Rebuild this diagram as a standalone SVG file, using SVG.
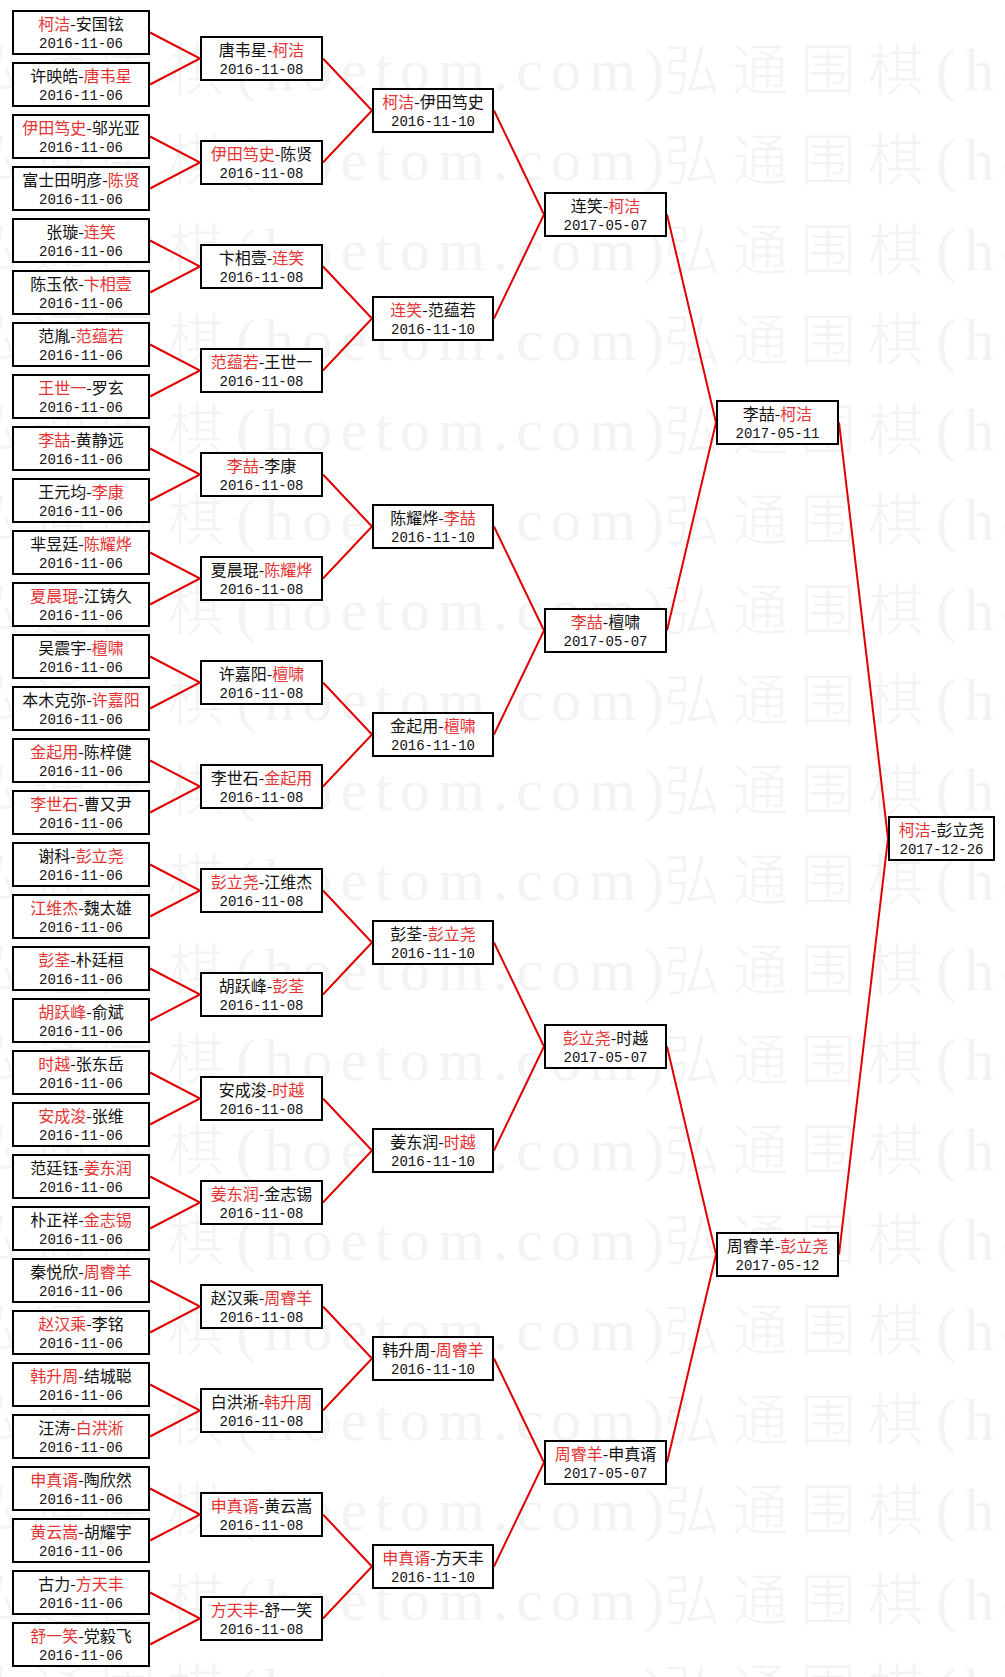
<svg xmlns="http://www.w3.org/2000/svg" xmlns:xlink="http://www.w3.org/1999/xlink" width="1005" height="1677" viewBox="0 0 1005 1677">
<style>
.bg{fill:#ffffff}
.wmc{font-family:"Noto Sans CJK SC",sans-serif;font-size:56px;font-weight:300;letter-spacing:12px;fill:#f3f3f3}
.wml{font-family:"Liberation Serif",serif;font-size:60px;fill:#f3f3f3}
.box{fill:#ffffff;stroke:#000000;stroke-width:2}
.n{font-family:"Noto Sans CJK SC",sans-serif;font-size:16px;fill:#111111;text-anchor:middle}
.d{font-family:"Liberation Mono",monospace;font-size:14px;fill:#111111;text-anchor:middle}
.w{fill:#e53333}
.c path{fill:none;stroke:#e00000;stroke-width:2}
</style>
<defs>
<g id="wmrow">
<text class="wmc" x="-36" y="0">弘通围棋</text>
<text class="wml" x="236" y="0" textLength="428" lengthAdjust="spacing">(hoetom.com)</text>
<text class="wmc" x="664" y="0">弘通围棋</text>
<text class="wml" x="936" y="0" textLength="428" lengthAdjust="spacing">(hoetom.com)</text>
</g>
</defs>
<rect class="bg" x="0" y="0" width="1005" height="1677"/>
<g id="watermark">
<use xlink:href="#wmrow" y="90"/><use xlink:href="#wmrow" y="180"/><use xlink:href="#wmrow" y="270"/><use xlink:href="#wmrow" y="360"/><use xlink:href="#wmrow" y="450"/><use xlink:href="#wmrow" y="540"/><use xlink:href="#wmrow" y="630"/><use xlink:href="#wmrow" y="720"/><use xlink:href="#wmrow" y="810"/><use xlink:href="#wmrow" y="900"/><use xlink:href="#wmrow" y="990"/><use xlink:href="#wmrow" y="1080"/><use xlink:href="#wmrow" y="1170"/><use xlink:href="#wmrow" y="1260"/><use xlink:href="#wmrow" y="1350"/><use xlink:href="#wmrow" y="1440"/><use xlink:href="#wmrow" y="1530"/><use xlink:href="#wmrow" y="1620"/><use xlink:href="#wmrow" y="1710"/>
</g>
<g id="connectors" class="c">
<path d="M150 32.5L200 58.5L150 84.5"/>
<path d="M150 136.5L200 162.5L150 188.5"/>
<path d="M150 240.5L200 266.5L150 292.5"/>
<path d="M150 344.5L200 370.5L150 396.5"/>
<path d="M150 448.5L200 474.5L150 500.5"/>
<path d="M150 552.5L200 578.5L150 604.5"/>
<path d="M150 656.5L200 682.5L150 708.5"/>
<path d="M150 760.5L200 786.5L150 812.5"/>
<path d="M150 864.5L200 890.5L150 916.5"/>
<path d="M150 968.5L200 994.5L150 1020.5"/>
<path d="M150 1072.5L200 1098.5L150 1124.5"/>
<path d="M150 1176.5L200 1202.5L150 1228.5"/>
<path d="M150 1280.5L200 1306.5L150 1332.5"/>
<path d="M150 1384.5L200 1410.5L150 1436.5"/>
<path d="M150 1488.5L200 1514.5L150 1540.5"/>
<path d="M150 1592.5L200 1618.5L150 1644.5"/>
<path d="M323 58.5L372 110.5L323 162.5"/>
<path d="M323 266.5L372 318.5L323 370.5"/>
<path d="M323 474.5L372 526.5L323 578.5"/>
<path d="M323 682.5L372 734.5L323 786.5"/>
<path d="M323 890.5L372 942.5L323 994.5"/>
<path d="M323 1098.5L372 1150.5L323 1202.5"/>
<path d="M323 1306.5L372 1358.5L323 1410.5"/>
<path d="M323 1514.5L372 1566.5L323 1618.5"/>
<path d="M494 110.5L544 214.5L494 318.5"/>
<path d="M494 526.5L544 630.5L494 734.5"/>
<path d="M494 942.5L544 1046.5L494 1150.5"/>
<path d="M494 1358.5L544 1462.5L494 1566.5"/>
<path d="M667 214.5L716 422.5L667 630.5"/>
<path d="M667 1046.5L716 1254.5L667 1462.5"/>
<path d="M839 422.5L888 838.5L839 1254.5"/>
</g>
<g id="round1">
<g id="r1-01"><rect class="box" x="13" y="11" width="136" height="43"/><text class="n" x="81" y="30"><tspan class="w">柯洁</tspan>-安国铉</text><text class="d" x="81" y="48">2016-11-06</text></g>
<g id="r1-02"><rect class="box" x="13" y="63" width="136" height="43"/><text class="n" x="81" y="82">许映皓-<tspan class="w">唐韦星</tspan></text><text class="d" x="81" y="100">2016-11-06</text></g>
<g id="r1-03"><rect class="box" x="13" y="115" width="136" height="43"/><text class="n" x="81" y="134"><tspan class="w">伊田笃史</tspan>-邬光亚</text><text class="d" x="81" y="152">2016-11-06</text></g>
<g id="r1-04"><rect class="box" x="13" y="167" width="136" height="43"/><text class="n" x="81" y="186">富士田明彦-<tspan class="w">陈贤</tspan></text><text class="d" x="81" y="204">2016-11-06</text></g>
<g id="r1-05"><rect class="box" x="13" y="219" width="136" height="43"/><text class="n" x="81" y="238">张璇-<tspan class="w">连笑</tspan></text><text class="d" x="81" y="256">2016-11-06</text></g>
<g id="r1-06"><rect class="box" x="13" y="271" width="136" height="43"/><text class="n" x="81" y="290">陈玉依-<tspan class="w">卞相壹</tspan></text><text class="d" x="81" y="308">2016-11-06</text></g>
<g id="r1-07"><rect class="box" x="13" y="323" width="136" height="43"/><text class="n" x="81" y="342">范胤-<tspan class="w">范蕴若</tspan></text><text class="d" x="81" y="360">2016-11-06</text></g>
<g id="r1-08"><rect class="box" x="13" y="375" width="136" height="43"/><text class="n" x="81" y="394"><tspan class="w">王世一</tspan>-罗玄</text><text class="d" x="81" y="412">2016-11-06</text></g>
<g id="r1-09"><rect class="box" x="13" y="427" width="136" height="43"/><text class="n" x="81" y="446"><tspan class="w">李喆</tspan>-黄静远</text><text class="d" x="81" y="464">2016-11-06</text></g>
<g id="r1-10"><rect class="box" x="13" y="479" width="136" height="43"/><text class="n" x="81" y="498">王元均-<tspan class="w">李康</tspan></text><text class="d" x="81" y="516">2016-11-06</text></g>
<g id="r1-11"><rect class="box" x="13" y="531" width="136" height="43"/><text class="n" x="81" y="550">芈昱廷-<tspan class="w">陈耀烨</tspan></text><text class="d" x="81" y="568">2016-11-06</text></g>
<g id="r1-12"><rect class="box" x="13" y="583" width="136" height="43"/><text class="n" x="81" y="602"><tspan class="w">夏晨琨</tspan>-江铸久</text><text class="d" x="81" y="620">2016-11-06</text></g>
<g id="r1-13"><rect class="box" x="13" y="635" width="136" height="43"/><text class="n" x="81" y="654">吴震宇-<tspan class="w">檀啸</tspan></text><text class="d" x="81" y="672">2016-11-06</text></g>
<g id="r1-14"><rect class="box" x="13" y="687" width="136" height="43"/><text class="n" x="81" y="706">本木克弥-<tspan class="w">许嘉阳</tspan></text><text class="d" x="81" y="724">2016-11-06</text></g>
<g id="r1-15"><rect class="box" x="13" y="739" width="136" height="43"/><text class="n" x="81" y="758"><tspan class="w">金起用</tspan>-陈梓健</text><text class="d" x="81" y="776">2016-11-06</text></g>
<g id="r1-16"><rect class="box" x="13" y="791" width="136" height="43"/><text class="n" x="81" y="810"><tspan class="w">李世石</tspan>-曹又尹</text><text class="d" x="81" y="828">2016-11-06</text></g>
<g id="r1-17"><rect class="box" x="13" y="843" width="136" height="43"/><text class="n" x="81" y="862">谢科-<tspan class="w">彭立尧</tspan></text><text class="d" x="81" y="880">2016-11-06</text></g>
<g id="r1-18"><rect class="box" x="13" y="895" width="136" height="43"/><text class="n" x="81" y="914"><tspan class="w">江维杰</tspan>-魏太雄</text><text class="d" x="81" y="932">2016-11-06</text></g>
<g id="r1-19"><rect class="box" x="13" y="947" width="136" height="43"/><text class="n" x="81" y="966"><tspan class="w">彭荃</tspan>-朴廷桓</text><text class="d" x="81" y="984">2016-11-06</text></g>
<g id="r1-20"><rect class="box" x="13" y="999" width="136" height="43"/><text class="n" x="81" y="1018"><tspan class="w">胡跃峰</tspan>-俞斌</text><text class="d" x="81" y="1036">2016-11-06</text></g>
<g id="r1-21"><rect class="box" x="13" y="1051" width="136" height="43"/><text class="n" x="81" y="1070"><tspan class="w">时越</tspan>-张东岳</text><text class="d" x="81" y="1088">2016-11-06</text></g>
<g id="r1-22"><rect class="box" x="13" y="1103" width="136" height="43"/><text class="n" x="81" y="1122"><tspan class="w">安成浚</tspan>-张维</text><text class="d" x="81" y="1140">2016-11-06</text></g>
<g id="r1-23"><rect class="box" x="13" y="1155" width="136" height="43"/><text class="n" x="81" y="1174">范廷钰-<tspan class="w">姜东润</tspan></text><text class="d" x="81" y="1192">2016-11-06</text></g>
<g id="r1-24"><rect class="box" x="13" y="1207" width="136" height="43"/><text class="n" x="81" y="1226">朴正祥-<tspan class="w">金志锡</tspan></text><text class="d" x="81" y="1244">2016-11-06</text></g>
<g id="r1-25"><rect class="box" x="13" y="1259" width="136" height="43"/><text class="n" x="81" y="1278">秦悦欣-<tspan class="w">周睿羊</tspan></text><text class="d" x="81" y="1296">2016-11-06</text></g>
<g id="r1-26"><rect class="box" x="13" y="1311" width="136" height="43"/><text class="n" x="81" y="1330"><tspan class="w">赵汉乘</tspan>-李铭</text><text class="d" x="81" y="1348">2016-11-06</text></g>
<g id="r1-27"><rect class="box" x="13" y="1363" width="136" height="43"/><text class="n" x="81" y="1382"><tspan class="w">韩升周</tspan>-结城聪</text><text class="d" x="81" y="1400">2016-11-06</text></g>
<g id="r1-28"><rect class="box" x="13" y="1415" width="136" height="43"/><text class="n" x="81" y="1434">汪涛-<tspan class="w">白洪淅</tspan></text><text class="d" x="81" y="1452">2016-11-06</text></g>
<g id="r1-29"><rect class="box" x="13" y="1467" width="136" height="43"/><text class="n" x="81" y="1486"><tspan class="w">申真谞</tspan>-陶欣然</text><text class="d" x="81" y="1504">2016-11-06</text></g>
<g id="r1-30"><rect class="box" x="13" y="1519" width="136" height="43"/><text class="n" x="81" y="1538"><tspan class="w">黄云嵩</tspan>-胡耀宇</text><text class="d" x="81" y="1556">2016-11-06</text></g>
<g id="r1-31"><rect class="box" x="13" y="1571" width="136" height="43"/><text class="n" x="81" y="1590">古力-<tspan class="w">方天丰</tspan></text><text class="d" x="81" y="1608">2016-11-06</text></g>
<g id="r1-32"><rect class="box" x="13" y="1623" width="136" height="43"/><text class="n" x="81" y="1642"><tspan class="w">舒一笑</tspan>-党毅飞</text><text class="d" x="81" y="1660">2016-11-06</text></g>
</g>
<g id="round2">
<g id="r2-01"><rect class="box" x="201" y="37" width="121" height="43"/><text class="n" x="261.5" y="56">唐韦星-<tspan class="w">柯洁</tspan></text><text class="d" x="261.5" y="74">2016-11-08</text></g>
<g id="r2-02"><rect class="box" x="201" y="141" width="121" height="43"/><text class="n" x="261.5" y="160"><tspan class="w">伊田笃史</tspan>-陈贤</text><text class="d" x="261.5" y="178">2016-11-08</text></g>
<g id="r2-03"><rect class="box" x="201" y="245" width="121" height="43"/><text class="n" x="261.5" y="264">卞相壹-<tspan class="w">连笑</tspan></text><text class="d" x="261.5" y="282">2016-11-08</text></g>
<g id="r2-04"><rect class="box" x="201" y="349" width="121" height="43"/><text class="n" x="261.5" y="368"><tspan class="w">范蕴若</tspan>-王世一</text><text class="d" x="261.5" y="386">2016-11-08</text></g>
<g id="r2-05"><rect class="box" x="201" y="453" width="121" height="43"/><text class="n" x="261.5" y="472"><tspan class="w">李喆</tspan>-李康</text><text class="d" x="261.5" y="490">2016-11-08</text></g>
<g id="r2-06"><rect class="box" x="201" y="557" width="121" height="43"/><text class="n" x="261.5" y="576">夏晨琨-<tspan class="w">陈耀烨</tspan></text><text class="d" x="261.5" y="594">2016-11-08</text></g>
<g id="r2-07"><rect class="box" x="201" y="661" width="121" height="43"/><text class="n" x="261.5" y="680">许嘉阳-<tspan class="w">檀啸</tspan></text><text class="d" x="261.5" y="698">2016-11-08</text></g>
<g id="r2-08"><rect class="box" x="201" y="765" width="121" height="43"/><text class="n" x="261.5" y="784">李世石-<tspan class="w">金起用</tspan></text><text class="d" x="261.5" y="802">2016-11-08</text></g>
<g id="r2-09"><rect class="box" x="201" y="869" width="121" height="43"/><text class="n" x="261.5" y="888"><tspan class="w">彭立尧</tspan>-江维杰</text><text class="d" x="261.5" y="906">2016-11-08</text></g>
<g id="r2-10"><rect class="box" x="201" y="973" width="121" height="43"/><text class="n" x="261.5" y="992">胡跃峰-<tspan class="w">彭荃</tspan></text><text class="d" x="261.5" y="1010">2016-11-08</text></g>
<g id="r2-11"><rect class="box" x="201" y="1077" width="121" height="43"/><text class="n" x="261.5" y="1096">安成浚-<tspan class="w">时越</tspan></text><text class="d" x="261.5" y="1114">2016-11-08</text></g>
<g id="r2-12"><rect class="box" x="201" y="1181" width="121" height="43"/><text class="n" x="261.5" y="1200"><tspan class="w">姜东润</tspan>-金志锡</text><text class="d" x="261.5" y="1218">2016-11-08</text></g>
<g id="r2-13"><rect class="box" x="201" y="1285" width="121" height="43"/><text class="n" x="261.5" y="1304">赵汉乘-<tspan class="w">周睿羊</tspan></text><text class="d" x="261.5" y="1322">2016-11-08</text></g>
<g id="r2-14"><rect class="box" x="201" y="1389" width="121" height="43"/><text class="n" x="261.5" y="1408">白洪淅-<tspan class="w">韩升周</tspan></text><text class="d" x="261.5" y="1426">2016-11-08</text></g>
<g id="r2-15"><rect class="box" x="201" y="1493" width="121" height="43"/><text class="n" x="261.5" y="1512"><tspan class="w">申真谞</tspan>-黄云嵩</text><text class="d" x="261.5" y="1530">2016-11-08</text></g>
<g id="r2-16"><rect class="box" x="201" y="1597" width="121" height="43"/><text class="n" x="261.5" y="1616"><tspan class="w">方天丰</tspan>-舒一笑</text><text class="d" x="261.5" y="1634">2016-11-08</text></g>
</g>
<g id="round3">
<g id="r3-1"><rect class="box" x="373" y="89" width="120" height="43"/><text class="n" x="433" y="108"><tspan class="w">柯洁</tspan>-伊田笃史</text><text class="d" x="433" y="126">2016-11-10</text></g>
<g id="r3-2"><rect class="box" x="373" y="297" width="120" height="43"/><text class="n" x="433" y="316"><tspan class="w">连笑</tspan>-范蕴若</text><text class="d" x="433" y="334">2016-11-10</text></g>
<g id="r3-3"><rect class="box" x="373" y="505" width="120" height="43"/><text class="n" x="433" y="524">陈耀烨-<tspan class="w">李喆</tspan></text><text class="d" x="433" y="542">2016-11-10</text></g>
<g id="r3-4"><rect class="box" x="373" y="713" width="120" height="43"/><text class="n" x="433" y="732">金起用-<tspan class="w">檀啸</tspan></text><text class="d" x="433" y="750">2016-11-10</text></g>
<g id="r3-5"><rect class="box" x="373" y="921" width="120" height="43"/><text class="n" x="433" y="940">彭荃-<tspan class="w">彭立尧</tspan></text><text class="d" x="433" y="958">2016-11-10</text></g>
<g id="r3-6"><rect class="box" x="373" y="1129" width="120" height="43"/><text class="n" x="433" y="1148">姜东润-<tspan class="w">时越</tspan></text><text class="d" x="433" y="1166">2016-11-10</text></g>
<g id="r3-7"><rect class="box" x="373" y="1337" width="120" height="43"/><text class="n" x="433" y="1356">韩升周-<tspan class="w">周睿羊</tspan></text><text class="d" x="433" y="1374">2016-11-10</text></g>
<g id="r3-8"><rect class="box" x="373" y="1545" width="120" height="43"/><text class="n" x="433" y="1564"><tspan class="w">申真谞</tspan>-方天丰</text><text class="d" x="433" y="1582">2016-11-10</text></g>
</g>
<g id="round4">
<g id="r4-1"><rect class="box" x="545" y="193" width="121" height="43"/><text class="n" x="605.5" y="212">连笑-<tspan class="w">柯洁</tspan></text><text class="d" x="605.5" y="230">2017-05-07</text></g>
<g id="r4-2"><rect class="box" x="545" y="609" width="121" height="43"/><text class="n" x="605.5" y="628"><tspan class="w">李喆</tspan>-檀啸</text><text class="d" x="605.5" y="646">2017-05-07</text></g>
<g id="r4-3"><rect class="box" x="545" y="1025" width="121" height="43"/><text class="n" x="605.5" y="1044"><tspan class="w">彭立尧</tspan>-时越</text><text class="d" x="605.5" y="1062">2017-05-07</text></g>
<g id="r4-4"><rect class="box" x="545" y="1441" width="121" height="43"/><text class="n" x="605.5" y="1460"><tspan class="w">周睿羊</tspan>-申真谞</text><text class="d" x="605.5" y="1478">2017-05-07</text></g>
</g>
<g id="round5">
<g id="r5-1"><rect class="box" x="717" y="401" width="121" height="43"/><text class="n" x="777.5" y="420">李喆-<tspan class="w">柯洁</tspan></text><text class="d" x="777.5" y="438">2017-05-11</text></g>
<g id="r5-2"><rect class="box" x="717" y="1233" width="121" height="43"/><text class="n" x="777.5" y="1252">周睿羊-<tspan class="w">彭立尧</tspan></text><text class="d" x="777.5" y="1270">2017-05-12</text></g>
</g>
<g id="final">
<rect class="box" x="889" y="817" width="105" height="43"/><text class="n" x="941.5" y="836"><tspan class="w">柯洁</tspan>-彭立尧</text><text class="d" x="941.5" y="854">2017-12-26</text>
</g>
</svg>
